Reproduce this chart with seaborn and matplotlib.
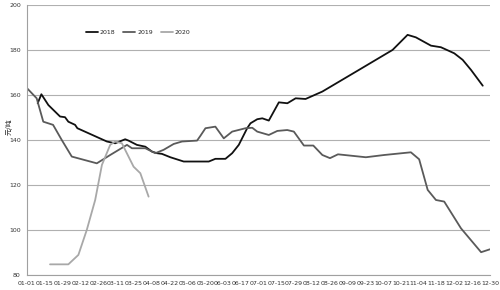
import numpy as np
import pandas as pd
import matplotlib
matplotlib.use("Agg")
import matplotlib.pyplot as plt
import seaborn as sns

# ---- data (day of year offset, value) ----
days_2018 = [8.4, 11.3, 16.8, 26, 29.9, 32.5, 37.8, 39.6, 62.8, 69.3, 77.2, 79.8, 86.4, 93, 98.3,
             102.2, 106.1, 112.7, 123.2, 142.9, 148.1, 156, 161.3, 166.5, 173.1, 175.7, 181, 185,
             190.1, 198, 204.7, 211.2, 219, 232.2, 260, 287.4, 299.2, 305.7, 317.6, 325.4, 335.9,
             342.5, 349.1, 358.3]
vals_2018 = [156.3, 160.3, 155.5, 150.4, 150.1, 148.1, 146.7, 145.2, 139.3, 138.5, 140.3, 139.7,
             137.8, 137.0, 134.8, 134.1, 133.8, 132.3, 130.4, 130.4, 131.6, 131.6, 134.1, 137.8,
             145.2, 147.4, 149.2, 149.6, 148.6, 156.7, 156.3, 158.5, 158.2, 161.5, 170.8, 180.0,
             186.7, 185.6, 181.9, 181.2, 178.5, 175.6, 171.1, 164.1]

days_2019 = [0, 7.6, 12.8, 20.5, 27.3, 35.2, 54.9, 65.4, 78.6, 82.5, 86.4, 93, 100.9, 107.4,
             115.3, 121.9, 133.7, 136.3, 140.3, 148.1, 154.7, 161.3, 171.8, 177.1, 181, 190.1,
             196.8, 204.6, 209.8, 217.7, 225.1, 232.2, 238.2, 244.5, 266.4, 280.8, 301.8, 308.3,
             315, 321.5, 328, 341.2, 357, 364]
vals_2019 = [163.0, 158.5, 148.1, 146.7, 140.0, 132.6, 129.6, 133.3, 137.8, 136.3, 136.3, 136.3,
             134.1, 135.6, 138.2, 139.3, 139.7, 141.8, 145.2, 145.9, 140.7, 143.7, 145.2, 145.4,
             143.7, 142.2, 144.0, 144.4, 143.7, 137.5, 137.5, 133.3, 131.9, 133.6, 132.3, 133.3,
             134.5, 131.4, 117.8, 113.3, 112.6, 100.7, 90.1, 91.4]

days_2020 = [18.1, 32.5, 40.4, 47, 53.6, 58.9, 65.4, 69.3, 74.6, 83.8, 89.1, 95.6]
vals_2020 = [84.7, 84.7, 88.9, 100.0, 113.3, 128.9, 137.8, 139.3, 138.5, 128.1, 125.2, 114.8]

tick_days = list(range(0, 365, 14))
tick_labels = ["01-01", "01-15", "01-29", "02-12", "02-26", "03-11", "03-25", "04-08", "04-22",
               "05-06", "05-20", "06-03", "06-17", "07-01", "07-15", "07-29", "08-12", "08-26",
               "09-09", "09-23", "10-07", "10-21", "11-04", "11-18", "12-02", "12-16", "12-30"]
y_ticks = [80, 100, 120, 140, 160, 180, 200]

series = {"2018": (days_2018, vals_2018), "2019": (days_2019, vals_2019),
          "2020": (days_2020, vals_2020)}
rows = []
for name, (d, v) in series.items():
    for i, (a, b) in enumerate(zip(d, v)):
        rows.append({"year": name, "day": a, "value": b, "order": i})
df = pd.DataFrame(rows)

sns.set_theme(style="white")
plt.rcParams['font.family'] = ['DejaVu Sans', 'Noto Sans CJK SC']

fig = plt.figure(figsize=(5.0, 2.9), dpi=100)
ax = fig.add_axes([0.054, 0.052, 0.926, 0.931])

palette = {"2018": "#111111", "2019": "#5a5a5a", "2020": "#a8a8a8"}
sns.lineplot(data=df, x="day", y="value", hue="year", palette=palette, sort=False,
             linewidth=1.3, ax=ax, estimator=None)

ax.set_xlim(0, 364)
ax.set_ylim(80, 200)
ax.set_xticks(tick_days)
ax.set_xticklabels(tick_labels, fontsize=4.5, color="#333333")
ax.set_yticks(y_ticks)
ax.set_yticklabels([str(t) for t in y_ticks], fontsize=4.5, color="#333333")
ax.yaxis.grid(True, color="#b0b0b0", linewidth=0.8)
ax.xaxis.grid(False)
for s in ["top", "right"]:
    ax.spines[s].set_visible(False)
for s in ["left", "bottom"]:
    ax.spines[s].set_color("#a0a0a0")
    ax.spines[s].set_linewidth(0.8)
ax.tick_params(axis="x", which="major", length=2.5, width=0.6, color="#a0a0a0", pad=2)
ax.tick_params(axis="y", which="major", length=2.5, width=0.6, color="#a0a0a0", pad=2)
ax.set_xlabel("")
ax.set_ylabel("元/吨", fontsize=5, family=['Noto Sans CJK SC', 'DejaVu Sans'])
ax.yaxis.set_label_coords(-0.028, 0.55)

leg = ax.legend(loc="upper left", bbox_to_anchor=(0.115, 0.93), ncol=3, frameon=False,
                fontsize=4.5, handlelength=1.9, handletextpad=0.3, columnspacing=1.3)

fig.savefig("out.png", dpi=100)
